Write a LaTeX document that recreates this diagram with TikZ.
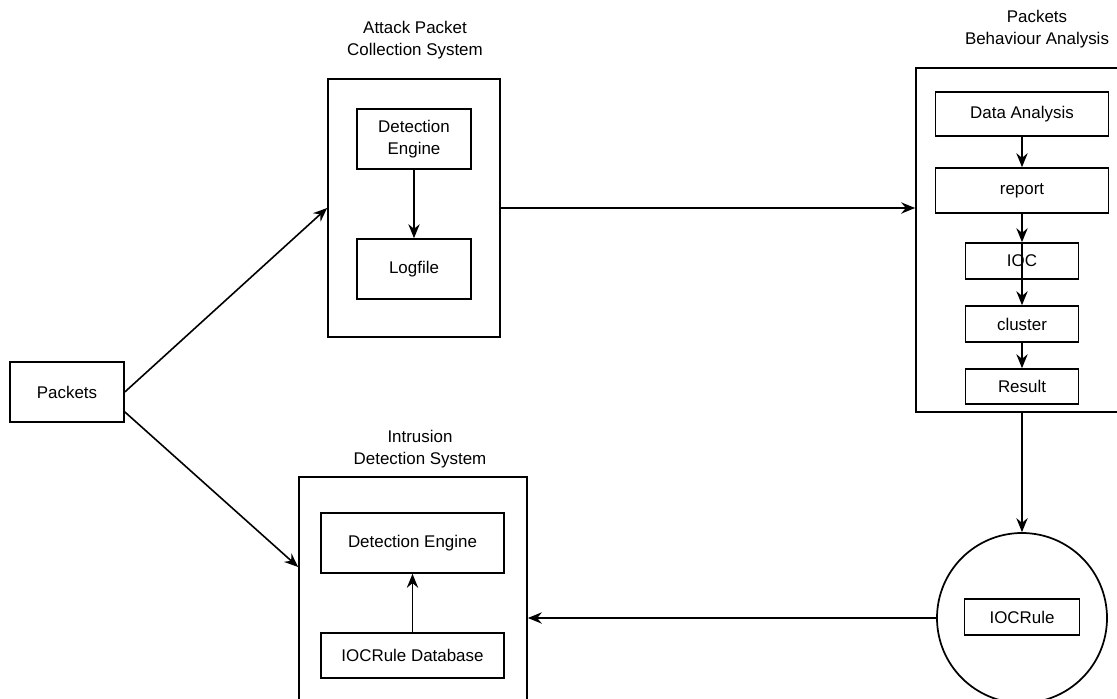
\documentclass[tikz,border=0pt]{standalone}
\usepackage{fontspec}
\setmainfont{Liberation Sans}
\usetikzlibrary{arrows.meta,positioning}
\begin{document}
\begin{tikzpicture}[x=0.75pt, y=-0.75pt, font=\fontsize{12.7}{16}\selectfont,
  box/.style={draw, line width=1.2pt, inner sep=2pt, align=center},
  frame/.style={draw, line width=1.3pt},
  title/.style={align=center, font=\fontsize{12.7}{16}\selectfont},
  arr/.style={-{Stealth[length=10.5pt, width=8.5pt, inset=3.5pt]}, line width=1.2pt}]
  \useasboundingbox (0,0) rectangle (1117,699);

  % packet source
  \node[box, minimum width=85.5pt, minimum height=45pt] (pk) at (67,392) {Packets};

  % attack packet collection system
  \node[frame, minimum width=129pt, minimum height=193.5pt] (apcs) at (414,208) {};
  \node[title] at (415,40) {Attack Packet\\Collection System};
  \node[box, minimum width=85.5pt, minimum height=45pt] (de1) at (414,139) {Detection\\Engine};
  \node[box, minimum width=85.5pt, minimum height=45pt] (log) at (414,269) {Logfile};

  % packets behaviour analysis (box runs past the right edge)
  \node[frame, minimum width=159pt, minimum height=258pt] (pba) at (1022,240) {};
  \node[title] at (1037,29) {Packets\\Behaviour Analysis};
  \node[box, minimum width=129.75pt, minimum height=33pt] (da) at (1022,114) {Data Analysis};
  \node[box, minimum width=129.75pt, minimum height=33.75pt] (rep) at (1022,190.5) {report};
  \node[box, minimum width=84.75pt, minimum height=27pt] (ioc) at (1022,261) {IOC};
  \node[box, minimum width=84.75pt, minimum height=27pt] (clu) at (1022,324) {cluster};
  \node[box, minimum width=84.75pt, minimum height=26.25pt] (res) at (1022,386.5) {Result};

  % rule store
  \node[frame, circle, minimum size=127.5pt] (circ) at (1022,618) {};
  \node[box, minimum width=86.25pt, minimum height=27pt] (iocr) at (1022,617) {IOCRule};

  % intrusion detection system (box runs past the bottom edge)
  \node[frame, minimum width=171pt, minimum height=174.75pt] (ids) at (413,593.5) {};
  \node[title] at (420,449) {Intrusion\\Detection System};
  \node[box, minimum width=137.25pt, minimum height=45pt] (de2) at (412.5,543) {Detection Engine};
  \node[box, minimum width=137.25pt, minimum height=33.75pt] (db) at (412.5,655.5) {IOCRule Database};

  % flows
  \draw[arr] (pk.east) -- (apcs.west);
  \draw[arr] (pk.-19) -- (ids.167);
  \draw[arr] (de1) -- (log);
  \draw[arr] (apcs.east) -- (apcs.east -| pba.west);
  \draw[arr] (da) -- (rep);
  \draw[arr] (rep) -- (ioc);
  \draw[arr] (ioc.north) -- (clu.north);
  \draw[arr] (clu) -- (res);
  \draw[arr] (pba.south) -- (circ.north);
  \draw[arr] (circ.west) -- (circ.west -| ids.east);
  \draw[arr] (db) -- (de2);
\end{tikzpicture}
\end{document}
